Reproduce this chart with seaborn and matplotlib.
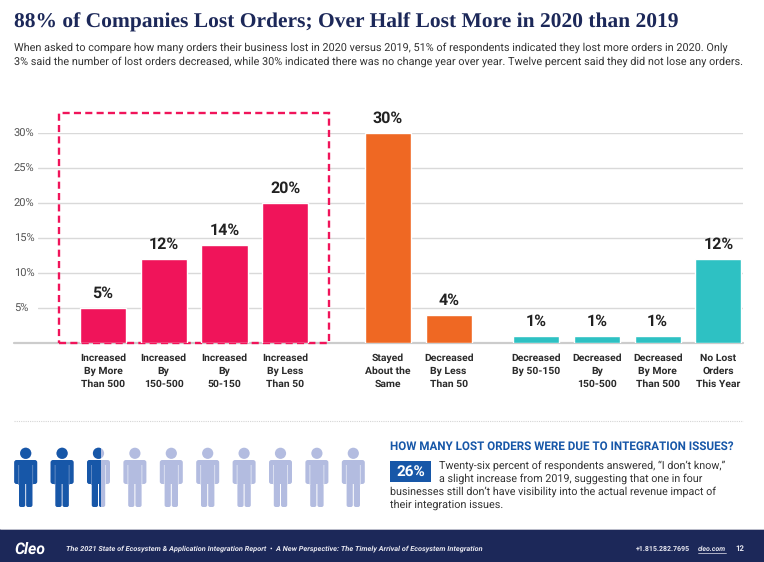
import matplotlib
matplotlib.use("Agg")
import matplotlib.pyplot as plt
import pandas as pd
import seaborn as sns
from matplotlib.patches import Circle, FancyBboxPatch, Rectangle

# chart data
categories = [
    "Increased\nBy More\nThan 500", "Increased\nBy\n150-500", "Increased\nBy\n50-150",
    "Increased\nBy Less\nThan 50", "Stayed\nAbout the\nSame", "Decreased\nBy Less\nThan 50",
    "Decreased\nBy 50-150\n", "Decreased\nBy\n150-500", "Decreased\nBy More\nThan 500",
    "No Lost\nOrders\nThis Year",
]
values = [5, 12, 14, 20, 30, 4, 1, 1, 1, 12]
groups = ["more", "more", "more", "more", "same", "same", "less", "less", "less", "less"]
y_ticks = [5, 10, 15, 20, 25, 30]
integration_pct = 26

title = "88% of Companies Lost Orders; Over Half Lost More in 2020 than 2019"
intro = [
    "When asked to compare how many orders their business lost in 2020 versus 2019, 51% of respondents indicated they lost more orders in 2020. Only",
    "3% said the number of lost orders decreased, while 30% indicated there was no change year over year. Twelve percent said they did not lose any orders.",
]
side_head = "HOW MANY LOST ORDERS WERE DUE TO INTEGRATION ISSUES?"
side_text = [
    "Twenty-six percent of respondents answered, \u201cI don\u2019t know,\u201d",
    "a slight increase from 2019, suggesting that one in four",
    "businesses still don\u2019t have visibility into the actual revenue impact of",
    "their integration issues.",
]

W, H = 764, 562
NAVY = "#1c2859"
BLUE = "#1757a8"
PINK = "#f0145a"
colors = {"more": PINK, "same": "#ef6823", "less": "#2ec1c3"}

sns.set_style("white")
plt.rcParams["font.family"] = ["Roboto", "DejaVu Sans"]
plt.rcParams["text.hinting"] = "none"

fig = plt.figure(figsize=(W / 100, H / 100), dpi=100, facecolor="white")

# page layer in pixel coordinates
page = fig.add_axes([0, 0, 1, 1])
page.set_xlim(0, W)
page.set_ylim(H, 0)
page.axis("off")


def fit_text(x, y, s, width, **kw):
    # no letter spacing or condensed cut here, so size the line to its width
    t = page.text(x, y, s, fontsize=10, va="center", **kw)
    w = t.get_window_extent(fig.canvas.get_renderer()).width
    t.set_fontsize(10 * width / w)
    return t


# bar chart, groups are pushed apart a bit
ax = fig.add_axes([38 / W, (H - 343) / H, 705 / W, 210 / H])
ax.patch.set_alpha(0)
gap = {"more": 0, "same": 0.69, "less": 1.13}
df = pd.DataFrame({"pos": [i + gap[g] for i, g in enumerate(groups)], "value": values, "group": groups})
sns.barplot(data=df, x="pos", y="value", hue="group", palette=colors, dodge=False,
            native_scale=True, width=0.76, saturation=1, legend=False, ax=ax, zorder=3)
ax.set_xlim(-1.07, 10.535)
ax.set_ylim(0, 30)
ax.set_xlabel("")
ax.set_ylabel("")
ax.set_xticks(df["pos"])
ax.set_xticklabels(categories, fontsize=7.5, fontweight="bold", color="#2b2b2b", linespacing=1.45, va="top")
ax.tick_params(axis="x", length=0, pad=7.5)
ax.set_yticks(y_ticks)
ax.set_yticklabels([f"{t}%" for t in y_ticks], fontsize=8, color="#555555", ha="left")
ax.tick_params(axis="y", length=0, pad=17.3)
ax.grid(axis="y", color="#d9d9d9", lw=1)
ax.set_axisbelow(True)
sns.despine(ax=ax, left=True, bottom=True, right=True, top=True)

for bars in ax.containers:
    ax.bar_label(bars, fmt="%g%%", padding=5, fontsize=11.5, fontweight="bold", color="#222222", zorder=5)

# dashed highlight around the "increased" bars
ax.add_patch(Rectangle((-0.72, 0), 4.44, 32.85, fill=False, ec=PINK, lw=1.7, ls=(0, (3, 1.8)),
                       clip_on=False, zorder=2))
page.plot([14, 743], [343, 343], color="#cccccc", lw=1.6)

# heading
fit_text(14, 22, title, 663, fontweight="bold", family="Liberation Serif", color=NAVY)
fit_text(14, 48, intro[0], 713, color="#333333")
fit_text(14, 62, intro[1], 726, color="#333333")

page.plot([14, 743], [420.5, 420.5], color="#d5d5d5", lw=0.8, ls=(0, (1, 1)))


# people pictogram, one figure stands for 10%
def person(cx, color, clip_x=None):
    parts = [
        Circle((cx, 453.3), 5.6),
        FancyBboxPatch((cx - 11.5, 460), 23, 24, boxstyle="round,pad=0,rounding_size=2.5"),
        FancyBboxPatch((cx - 6.7, 478), 6.2, 29, boxstyle="round,pad=0,rounding_size=2"),
        FancyBboxPatch((cx + 0.5, 478), 6.2, 29, boxstyle="round,pad=0,rounding_size=2"),
    ]
    for side in (-1, 1):
        parts.append(Rectangle((cx + side * 7 - 0.4, 465), 0.8, 20, snap=False))
    for k, p in enumerate(parts):
        if k < 4:
            p.set(facecolor=color, edgecolor="none")
        else:
            p.set(facecolor="#e4e8f5" if color != BLUE else "#6f93c8", edgecolor="none")
        page.add_patch(p)
        if clip_x is not None:
            p.set_clip_path(Rectangle((cx - 12, 440), clip_x - (cx - 12), 70, transform=page.transData))


for i in range(10):
    cx = 25.7 + i * 36.4
    share = integration_pct / 10 - i
    person(cx, "#b3bce0")
    if share >= 1:
        person(cx, BLUE)
    elif share > 0:
        person(cx, BLUE, clip_x=cx - 12 + 24 * share)

# side note
fit_text(390, 447, side_head, 344, fontweight="bold", color=BLUE)
page.add_patch(Rectangle((390, 461), 41, 21, fc=BLUE, ec="none"))
page.text(410.5, 471.5, f"{integration_pct}%", fontsize=11, fontweight="bold", color="white", ha="center", va="center")
side_x = [439, 439, 390, 390]
side_w = [288, 265, 328, 113]
for i, line in enumerate(side_text):
    fit_text(side_x[i], 465.5 + i * 13, line, side_w[i], color="#333333")

# footer
page.add_patch(Rectangle((0, 529), W, H - 529, fc=NAVY, ec="none"))
page.plot([0, W], [528.5, 528.5], color="#d8d8e0", lw=0.6)
fit_text(14, 549, "Cleo", 31, fontweight="bold", style="italic", color="white")
fit_text(66, 549, "The 2021 State of Ecosystem & Application Integration Report  \u2022  A New Perspective: The Timely Arrival of Ecosystem Integration",
         416, fontweight="bold", style="italic", color="#e8e8f0")
fit_text(636, 549, "+1.815.282.7695", 54, fontweight="bold", color="#e8e8f0")
fit_text(698, 549, "cleo.com", 28, fontweight="bold", style="italic", color="#e8e8f0")
page.plot([698, 726], [553, 553], color="#e8e8f0", lw=0.5)
page.text(735, 549, "12", fontsize=5.6, fontweight="bold", color="#e8e8f0", va="center")

fig.savefig("out.png", dpi=100)
